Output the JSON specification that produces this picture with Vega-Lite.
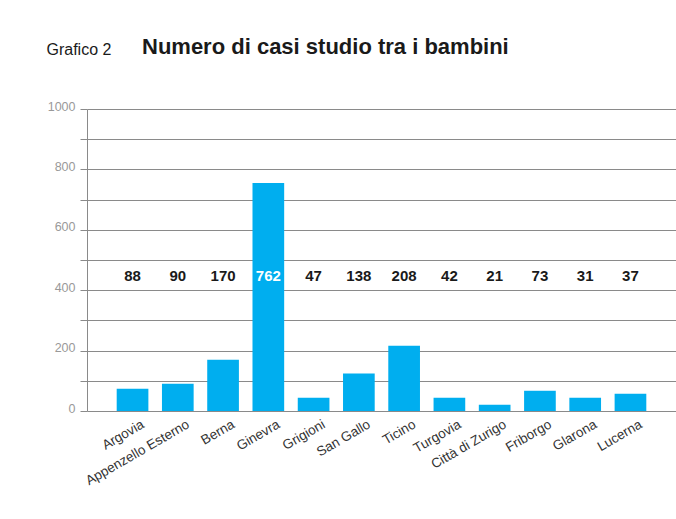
{
  "$schema": "https://vega.github.io/schema/vega-lite/v6.json",
  "width": 589,
  "height": 302,
  "autosize": {"type": "none"},
  "padding": {"left": 87, "top": 109, "right": 0, "bottom": 108},
  "background": "white",
  "config": {"view": {"stroke": null}, "font": "Liberation Sans"},
  "title": {
    "text": "Numero di casi studio tra i bambini",
    "anchor": "start",
    "frame": "group",
    "dx": 55,
    "offset": 0,
    "dy": 35,
    "baseline": "alphabetic",
    "fontSize": 22,
    "fontWeight": "bold",
    "color": "#1a1a1a",
    "font": "Liberation Sans"
  },
  "data": {
    "values": [
      {"regione": "Argovia", "valore": 74, "etichetta": 88},
      {"regione": "Appenzello Esterno", "valore": 90, "etichetta": 90},
      {"regione": "Berna", "valore": 170, "etichetta": 170},
      {"regione": "Ginevra", "valore": 755, "etichetta": 762},
      {"regione": "Grigioni", "valore": 44, "etichetta": 47},
      {"regione": "San Gallo", "valore": 124, "etichetta": 138},
      {"regione": "Ticino", "valore": 216, "etichetta": 208},
      {"regione": "Turgovia", "valore": 44, "etichetta": 42},
      {"regione": "Città di Zurigo", "valore": 21, "etichetta": 21},
      {"regione": "Friborgo", "valore": 67, "etichetta": 73},
      {"regione": "Glarona", "valore": 44, "etichetta": 31},
      {"regione": "Lucerna", "valore": 57, "etichetta": 37}
    ]
  },
  "encoding": {
    "x": {
      "field": "regione",
      "type": "nominal",
      "sort": null,
      "scale": {"paddingInner": 0.3, "paddingOuter": 0.656},
      "axis": {
        "title": null,
        "domain": false,
        "ticks": false,
        "labelAngle": -30,
        "labelAlign": "right",
        "labelBaseline": "top",
        "labelFontSize": 13.5,
        "labelColor": "#333333",
        "labelPadding": 6,
        "labelOffset": 7
      }
    }
  },
  "layer": [
    {
      "mark": {"type": "bar", "color": "#00AEEF"},
      "encoding": {
        "y": {
          "field": "valore",
          "type": "quantitative",
          "scale": {"domain": [0, 1000], "nice": false},
          "axis": {
            "values": [0, 100, 200, 300, 400, 500, 600, 700, 800, 900, 1000],
            "labelExpr": "datum.value % 200 === 0 ? datum.label : ''",
            "format": "d",
            "grid": true,
            "gridColor": "#8a8a8a",
            "gridWidth": 1,
            "domain": true,
            "domainColor": "#8a8a8a",
            "tickSize": 7,
            "tickColor": "#8a8a8a",
            "labelColor": "#999999",
            "labelFontSize": 12.5,
            "labelPadding": 5,
            "labelOffset": -3,
            "title": "Grafico 2",
            "titleAngle": 0,
            "titleX": -41,
            "titleY": -55,
            "titleAlign": "left",
            "titleBaseline": "alphabetic",
            "titleFontSize": 16,
            "titleFontWeight": "normal",
            "titleColor": "#1a1a1a"
          }
        }
      }
    },
    {
      "mark": {"type": "text", "fontSize": 15, "fontWeight": "bold", "baseline": "middle"},
      "encoding": {
        "y": {
          "datum": 447,
          "type": "quantitative",
          "scale": {"domain": [0, 1000], "nice": false},
          "axis": {
            "values": [0, 100, 200, 300, 400, 500, 600, 700, 800, 900, 1000],
            "labelExpr": "datum.value % 200 === 0 ? datum.label : ''",
            "format": "d",
            "grid": true,
            "gridColor": "#8a8a8a",
            "gridWidth": 1,
            "domain": true,
            "domainColor": "#8a8a8a",
            "tickSize": 7,
            "tickColor": "#8a8a8a",
            "labelColor": "#999999",
            "labelFontSize": 12.5,
            "labelPadding": 5,
            "labelOffset": -3,
            "title": "Grafico 2",
            "titleAngle": 0,
            "titleX": -41,
            "titleY": -55,
            "titleAlign": "left",
            "titleBaseline": "alphabetic",
            "titleFontSize": 16,
            "titleFontWeight": "normal",
            "titleColor": "#1a1a1a"
          }
        },
        "text": {"field": "etichetta", "type": "quantitative"},
        "color": {
          "condition": {"test": "datum.valore > 447", "value": "white"},
          "value": "#1a1a1a"
        }
      }
    }
  ]
}
